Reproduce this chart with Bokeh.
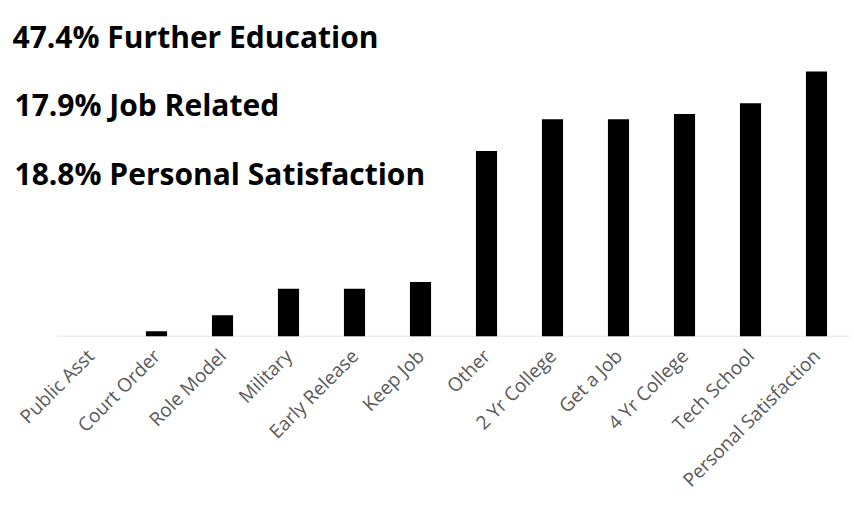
from math import pi
from bokeh.plotting import figure
from bokeh.models import Label, Range1d, FixedTicker
from bokeh.embed import file_html
from bokeh.resources import INLINE

categories = ["Public Asst", "Court Order", "Role Model", "Military", "Early Release",
              "Keep Job", "Other", "2 Yr College", "Get a Job", "4 Yr College",
              "Tech School", "Personal Satisfaction"]
values = [0, 1, 4, 9, 9, 10.3, 35, 41, 41, 42, 44, 50]
headlines = ["47.4% Further Education", "17.9% Job Related", "18.8% Personal Satisfaction"]

W, H = 852, 506
LEFT, RIGHT, BOTTOM = 57, 849, 336
n = len(categories)
catw = (RIGHT - LEFT) / n
ppu = 5.3
xpos = [i + 0.5 for i in range(n)]

p = figure(x_range=Range1d(-LEFT / catw, (W - LEFT) / catw),
           y_range=Range1d(0, BOTTOM / ppu),
           width=W, height=H, output_backend="svg", toolbar_location=None,
           min_border_left=0, min_border_right=0, min_border_top=0,
           min_border_bottom=H - BOTTOM)
p.segment(x0=[0], x1=[n], y0=[0], y1=[0], line_color="#d9d9d9", line_width=1.5)
p.vbar(x=xpos, top=values, width=0.32, fill_color="black", line_color=None)

p.yaxis.visible = False
p.xgrid.visible = False
p.ygrid.visible = False
p.outline_line_color = None
ax = p.xaxis[0]
ax.ticker = FixedTicker(ticks=xpos)
ax.major_label_overrides = {x: c for x, c in zip(xpos, categories)}
ax.axis_line_color = None
ax.major_tick_line_color = None
ax.minor_tick_line_color = None
ax.major_label_orientation = pi / 4
ax.major_label_text_font = "Open Sans"
ax.major_label_text_font_size = "19px"
ax.major_label_text_color = "#595959"
ax.major_label_standoff = 10

page_y = [36, 104, 173]
page_x = [12, 14, 14]
for t, x, y in zip(headlines, page_x, page_y):
    p.add_layout(Label(x=(x - LEFT) / catw, y=(BOTTOM - y) / ppu, text=t,
                       text_font="Open Sans", text_font_style="bold",
                       text_font_size="30px", text_color="black",
                       text_baseline="alphabetic"))

open("out.html", "w").write(file_html(p, INLINE))
